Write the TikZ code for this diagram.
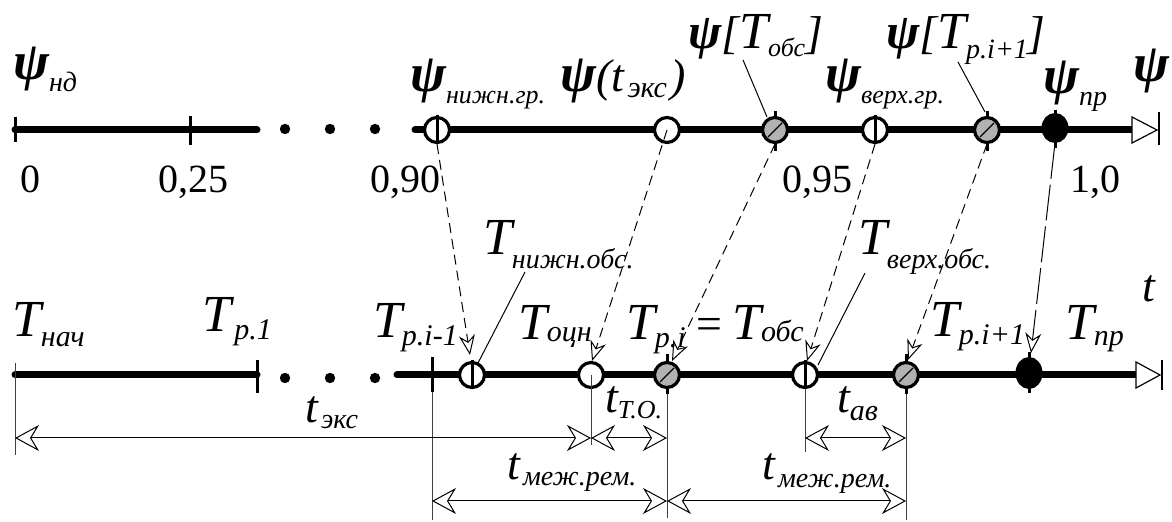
\documentclass[tikz,border=0pt]{standalone}
\usepackage{fontspec}
\setmainfont{Liberation Serif}
\usetikzlibrary{arrows.meta,calc,shapes.geometric}
\newcommand\fT{\fontsize{26}{28}\selectfont\itshape}
\newcommand\fTt{\fontsize{23}{25}\selectfont\itshape}
\newcommand\fS{\fontsize{15}{16}\selectfont\itshape}
\newcommand\fPs{\fontsize{14}{15}\selectfont\itshape}
\newcommand\fSs{\fontsize{13}{14}\selectfont\itshape}
\newcommand\fP{\fontsize{27}{29}\selectfont\bfseries\itshape}
\newcommand\fPb{\fontsize{25}{27}\selectfont\bfseries\itshape}
\newcommand\fD{\fontsize{20}{22}\selectfont}
\newcommand\lowr[2]{\raisebox{-#1}{#2}}
\begin{document}
\begin{tikzpicture}[x=0.5pt,y=-0.5pt,
  axisln/.style={line width=3.5pt, line cap=round},
  tickln/.style={line width=1.5pt},
  lbl/.style={anchor=base west, inner sep=0pt, outer sep=0pt},
  num/.style={anchor=base, inner sep=0pt, font=\fD},
  mk/.style={circle, draw, line width=1.6pt, minimum size=12.5pt, inner sep=0pt, fill=white},
  mkgray/.style={mk, fill=black!30},
  mkblack/.style={ellipse, draw, fill=black, line width=1pt, minimum width=12.5pt, minimum height=14pt, inner sep=0pt},
  dimline/.style={line width=0.5pt, {Stealth[open,length=12pt,width=13pt]}-{Stealth[open,length=12pt,width=13pt]}},
  extln/.style={line width=0.5pt, draw=black!75},
  proj/.style={line width=0.5pt, dash pattern=on 5pt off 3pt, -{Stealth[open,length=10pt,width=8pt]}},
  projlong/.style={proj, dash pattern=on 18pt off 3pt},
  lead/.style={line width=0.5pt},
  tipln/.style={line width=0.6pt, fill=white, line join=miter}
]
\useasboundingbox (0,0) rectangle (1172,522);

% ---------- top axis ----------
\coordinate (ta0) at (15,130);
\coordinate (ta1) at (257,130);
\coordinate (ta2) at (415,130);
\coordinate (ta3) at (1134,130);
\draw[axisln] (ta0) -- (ta1);
\draw[axisln] (ta2) -- (ta3);
\foreach \x in {285,330,375} \fill (\x,129) circle[radius=2.6pt];
\draw[tickln] (15,117) -- (15,142);
\draw[tickln] (190,116) -- (190,145);
\draw[tipln] (1132,117) -- (1157,130) -- (1132,143) -- cycle;
\draw[line width=0.6pt] (1159,112) -- (1159,145);

% ---------- bottom axis ----------
\coordinate (ba0) at (15,375);
\coordinate (ba1) at (257,375);
\coordinate (ba2) at (397,375);
\coordinate (ba3) at (1137,375);
\draw[axisln] (ba0) -- (ba1);
\draw[axisln] (ba2) -- (ba3);
\foreach \x in {285,330,375} \fill (\x,378) circle[radius=2.6pt];
\draw[tickln] (257,360) -- (257,393);
\draw[tickln] (432,357) -- (432,392);
\draw[tipln] (1136,362) -- (1160,375) -- (1136,388) -- cycle;
\draw[line width=0.6pt] (1162,360) -- (1162,390);

% ---------- extension lines ----------
\draw[extln] (15,363) -- (15,455);
\draw[extln] (432,392) -- (432,520);

% ---------- top markers ----------
\node[mk] (tA) at (437,130) {};
\node[mk] (tB) at (667,130) {};
\node[mkgray] (tC) at (775,130) {};
\node[mk] (tD) at (875,130) {};
\node[mkgray] (tE) at (987,130) {};
\node[mkblack] (tF) at (1055,128) {};
\foreach \n in {tA,tD} \draw[tickln] ($(\n)+(0,-15)$) -- ($(\n)+(0,14)$);
\foreach \n in {tC,tE} {
  \draw[tickln] ($(\n)+(0,-19)$) -- ($(\n)+(0,-12)$);
  \draw[tickln] ($(\n)+(0,12)$) -- ($(\n)+(0,21)$);
  \draw[line width=0.7pt] ($(\n)+(-7,7)$) -- ($(\n)+(7,-7)$);
}
\draw[tickln] ($(tF)+(0,-18)$) -- ($(tF)+(0,-12)$);
\draw[tickln] ($(tF)+(0,12)$) -- ($(tF)+(0,20)$);

% ---------- bottom markers ----------
\node[mk] (bA) at (472,375) {};
\node[mk] (bB) at (591,375) {};
\node[mkgray] (bC) at (667,375) {};
\node[mk] (bD) at (805,375) {};
\node[mkgray] (bE) at (906,375) {};
\node[mkblack, minimum height=15pt] (bF) at (1029,373) {};
\foreach \n in {bA,bD} \draw[tickln] ($(\n)+(0,-15)$) -- ($(\n)+(0,14)$);
\foreach \n in {bC,bE} {
  \draw[tickln] ($(\n)+(0,-21)$) -- ($(\n)+(0,-12)$);
  \draw[tickln] ($(\n)+(0,12)$) -- ($(\n)+(0,19)$);
  \draw[line width=0.7pt] ($(\n)+(-7,7)$) -- ($(\n)+(7,-7)$);
}
\draw[tickln] ($(bF)+(0,-21)$) -- ($(bF)+(0,-14)$);
\draw[tickln] ($(bF)+(0,14)$) -- ($(bF)+(0,20)$);

% ---------- extension lines from markers ----------
\draw[extln] (bB.center) -- ($(bB)+(0,70)$);
\draw[extln] ($(bC)+(0,19)$) -- ($(bC)+(0,143)$);
\draw[extln] ($(bD)+(0,14)$) -- ($(bD)+(0,77)$);
\draw[extln] ($(bE)+(0,19)$) -- ($(bE)+(0,145)$);

% ---------- projection lines ----------
\draw[proj] (tA.south) -- ($(bA)+(-2,-20)$);
\draw[proj] (tB.center) -- ($(bB)+(1,-14)$);
\draw[proj] (tC.south) -- ($(bC)+(5,-14)$);
\draw[proj] (tD.south) -- ($(bD)+(2,-14)$);
\draw[proj] (tE.south) -- ($(bE)+(2,-15)$);
\draw[projlong] (tF.south) -- ($(bF)+(2,-20)$);

% ---------- dimension lines ----------
\draw[dimline] (15,438) -- (bB |- 0,438);
\draw[dimline] (bB |- 0,438) -- (bC |- 0,438);
\draw[dimline] (bD |- 0,438) -- (bE |- 0,438);
\draw[dimline] (432,501) -- (bC |- 0,501);
\draw[dimline] (bC |- 0,501) -- (bE |- 0,501);

% ---------- top labels ----------
\node[lbl] (Lnd) at (13,80) {{\fP ψ}\lowr{6pt}{\fPs нд}};
\node[num] (n0) at (30,193) {0};
\node[num] (n25) at (193,193) {0,25};
\node[num] (n90) at (405,193) {0,90};
\node[num] (n95) at (817,193) {0,95};
\node[num] (n10) at (1095,193) {1,0};
\node[lbl] (Lnizh) at (410,92) {{\fP ψ}\lowr{6pt}{\fSs нижн.гр.}};
\node[lbl] (Ltexs) at (560,92) {{\fP ψ}{\fTt(t}\,\lowr{3pt}{\fS экс}\,{\fTt)}};
\node[lbl] (Lobs) at (688,49) {{\fPb ψ}{\fTt[}{\fT T}\lowr{4pt}{\fSs обс}{\fTt]}};
\node[lbl] (Lverh) at (825,92) {{\fP ψ}\lowr{6pt}{\fSs верх.гр.}};
\node[lbl] (Lpi1) at (886,49) {{\fPb ψ}{\fTt[}{\fT T}\lowr{5pt}{\fPs p.i+1}{\fTt]}};
\node[lbl] (Lpr) at (1043,94) {{\fP ψ}\lowr{6pt}{\fPs пр}};
\node[lbl] (Lpsi) at (1133,82) {{\fP ψ}};

% ---------- bottom labels ----------
\node[lbl] (Lnach) at (12,337) {{\fT T}\lowr{5pt}{\fS нач}};
\node[lbl] (Lp1) at (202,332) {{\fT T}\,\lowr{4pt}{\fS p.1}};
\node[lbl] (Lpim1) at (373,338) {{\fT T}\lowr{4pt}{\fS p.i-1}};
\node[lbl] (Lnizhobs) at (483,255) {{\fT T}\lowr{7pt}{\fPs нижн.обс.}};
\node[lbl] (Locn) at (518,340) {{\fT T}\lowr{1pt}{\fS оцн}};
\node[lbl] (Lpi) at (626,340) {{\fT T}\lowr{4pt}{\fS p.i}{\fTt\,=\,}{\fT T}\lowr{1pt}{\fS обс}};
\node[lbl] (Lverhobs) at (858,255) {{\fT T}\lowr{7pt}{\fPs верх.обс.}};
\node[lbl] (Lpip1) at (930,337) {{\fT T}\lowr{4pt}{\fS p.i+1}};
\node[lbl] (Lpr2) at (1065,340) {{\fT T}\lowr{3pt}{\fS пр}};
\node[lbl] (Lt) at (1142,302) {{\fTt t}};

% ---------- dimension labels ----------
\node[lbl] (Ltexs2) at (305,423) {{\fTt t}\,\lowr{3pt}{\fPs экс}};
\node[lbl] (Lto) at (605,413) {{\fTt t}\lowr{3pt}{\fSs T.O.}};
\node[lbl] (Lav) at (837,413) {{\fTt t}\lowr{4pt}{\fS ав}};
\node[lbl] (Lmr1) at (507,480) {{\fTt t}\,\lowr{3pt}{\fPs меж.рем.}};
\node[lbl] (Lmr2) at (762,480) {{\fTt t}\,\lowr{4pt}{\fPs меж.рем.}};

% ---------- leader lines ----------
\coordinate (c1) at (743,60);
\coordinate (c2) at (958,62);
\coordinate (c3) at (525,272);
\coordinate (c4) at (865,273);
\draw[lead] (c1) -- ($(tC)+(-8,-13)$);
\draw[lead] (c2) -- ($(tE)+(-2,-18)$);
\draw[lead] (c3) -- ($(bA)+(6,-12)$);
\draw[lead] (c4) -- ($(bD)+(13,-10)$);
\end{tikzpicture}
\end{document}
